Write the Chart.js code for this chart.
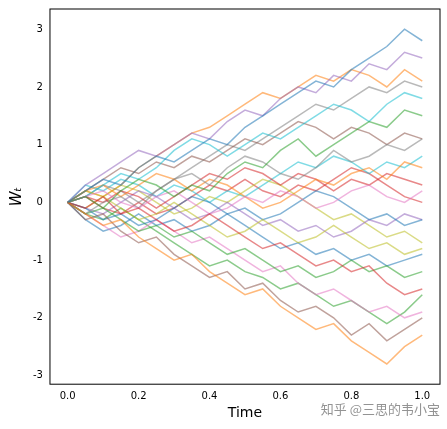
<!DOCTYPE html>
<html><head><meta charset="utf-8">
<script src="https://cdn.jsdelivr.net/npm/chart.js@4"></script>
<style>html,body{margin:0;padding:0;background:#fff}#w{width:447px;height:429px}</style>
</head><body><div id="w"><canvas id="c"></canvas></div>
<script>
const times = [0,0.05,0.1,0.15,0.2,0.25,0.3,0.35,0.4,0.45,0.5,0.55,0.6,0.65,0.7,0.75,0.8,0.85,0.9,0.95,1.0];
const xTicks = [0,0.2,0.4,0.6,0.8,1.0];
const yTicks = [-3,-2,-1,0,1,2,3];
const p1=[0,0.2,0.4,0.3,0.6,0.8,0.7,0.9,1.1,1.0,1.3,1.5,1.7,1.9,2.1,2.0,2.3,2.5,2.7,3.0,2.8];
const p2=[0,-0.2,-0.4,-0.3,-0.6,-0.8,-1.0,-0.9,-1.2,-1.4,-1.6,-1.5,-1.8,-2.0,-2.2,-2.1,-2.4,-2.6,-2.8,-2.5,-2.3];
const p3=[0,0.1,-0.1,0.2,0.4,0.3,0.1,0.3,0.2,0.5,0.7,0.6,0.9,1.1,0.8,1.0,1.2,1.4,1.3,1.6,1.5];
const p4=[0,-0.1,0.1,-0.2,-0.1,-0.3,-0.5,-0.4,-0.2,-0.4,-0.6,-0.8,-0.7,-0.9,-1.1,-1.0,-1.2,-1.1,-1.4,-1.6,-1.5];
const p5=[0,0.3,0.5,0.7,0.9,0.8,1.0,1.2,1.1,1.4,1.6,1.5,1.8,2.0,1.9,2.2,2.1,2.4,2.3,2.6,2.5];
const p6=[0,-0.3,-0.2,-0.5,-0.7,-0.6,-0.9,-1.1,-1.3,-1.2,-1.5,-1.4,-1.7,-1.9,-1.8,-2.0,-2.3,-2.1,-2.4,-2.2,-2.0];
const p7=[0,0.1,0.2,0.0,-0.1,0.1,0.2,0.0,-0.2,-0.1,0.1,0.0,0.2,0.1,-0.1,0.0,0.2,0.3,0.1,0.0,0.2];
const p8=[0,-0.2,0.0,0.1,-0.1,0.2,0.4,0.5,0.3,0.6,0.8,0.7,0.5,0.4,0.6,0.9,0.7,0.8,1.0,0.9,1.1];
const p9=[0,0.2,0.1,-0.1,-0.3,-0.2,0.0,-0.2,-0.4,-0.6,-0.5,-0.3,-0.5,-0.7,-0.6,-0.4,-0.6,-0.8,-0.7,-0.9,-0.8];
const p10=[0,0.1,0.3,0.5,0.4,0.6,0.9,1.1,1.0,0.8,1.0,1.2,1.1,1.3,1.5,1.7,1.6,1.4,1.7,1.9,1.8];
const p11=[0,-0.1,-0.3,-0.2,-0.4,-0.3,-0.1,0.1,0.0,-0.2,-0.1,-0.3,-0.2,0.0,0.2,0.1,-0.1,-0.3,-0.2,-0.4,-0.3];
const p12=[0,0.2,0.3,0.1,0.3,0.5,0.4,0.2,0.4,0.3,0.1,-0.1,0.0,0.2,0.4,0.3,0.5,0.6,0.4,0.7,0.6];
const p13=[0,-0.2,-0.1,-0.3,-0.5,-0.4,-0.6,-0.5,-0.7,-0.9,-0.8,-1.0,-1.2,-1.1,-1.3,-1.2,-1.0,-1.2,-1.1,-1.3,-1.2];
const p14=[0,0.1,0.0,0.2,0.1,-0.1,0.1,0.3,0.5,0.4,0.6,0.5,0.3,0.5,0.4,0.2,0.4,0.3,0.5,0.4,0.3];
const p15=[0,-0.1,-0.2,0.0,0.2,0.1,-0.1,-0.3,-0.2,0.0,-0.2,-0.4,-0.3,-0.5,-0.4,-0.6,-0.5,-0.3,-0.4,-0.2,-0.3];
const p16=[0,0.2,0.4,0.6,0.5,0.7,0.6,0.8,0.7,0.9,1.1,1.0,1.2,1.4,1.3,1.1,1.3,1.2,1.0,1.2,1.1];
const p17=[0,-0.2,-0.4,-0.6,-0.5,-0.3,-0.5,-0.7,-0.6,-0.8,-1.0,-1.2,-1.1,-1.4,-1.6,-1.5,-1.7,-1.9,-1.8,-2.0,-1.9];
const p18=[0,0.1,0.3,0.2,0.0,0.2,0.4,0.6,0.8,1.0,0.9,1.1,1.3,1.5,1.7,1.6,1.8,2.0,1.9,2.1,2.0];
const p19=[0,-0.1,0.1,0.3,0.2,0.0,-0.2,-0.1,0.1,0.0,0.2,0.4,0.3,0.1,-0.1,-0.3,-0.2,-0.4,-0.6,-0.5,-0.7];
const p20=[0,0.3,0.2,0.4,0.3,0.1,0.3,0.2,0.0,0.2,0.1,0.3,0.5,0.7,0.6,0.8,0.7,0.5,0.7,0.6,0.8];
const p21=[0,-0.3,-0.5,-0.4,-0.2,-0.4,-0.3,-0.5,-0.4,-0.2,-0.4,-0.6,-0.8,-0.7,-0.9,-0.8,-1.0,-0.9,-1.1,-1.0,-0.9];
const p22=[0,0.2,0.1,0.3,0.6,0.8,1.0,1.2,1.3,1.5,1.7,1.9,1.8,2.0,2.2,2.1,2.3,2.2,2.0,2.3,2.1];
const p23=[0,-0.2,-0.3,-0.1,-0.3,-0.5,-0.7,-0.9,-1.1,-1.0,-1.2,-1.3,-1.5,-1.4,-1.6,-1.8,-1.7,-1.9,-2.1,-1.9,-1.6];
const p24=[0,0.1,-0.1,-0.2,0.0,-0.2,-0.1,0.1,0.3,0.2,0.4,0.2,0.1,0.3,0.2,0.4,0.6,0.5,0.3,0.1,0.0];
const paths=[p1,p2,p3,p4,p5,p6,p7,p8,p9,p10,p11,p12,p13,p14,p15,p16,p17,p18,p19,p20,p21,p22,p23,p24];
const colors=['31,119,180','255,127,14','44,160,44','214,39,40','148,103,189','140,86,75','227,119,194','127,127,127','188,189,34','23,190,207'];
const datasets=paths.map((p,i)=>({data:p.map((v,j)=>({x:times[j],y:v})),borderColor:'rgba('+colors[i%10]+',0.55)',borderWidth:1.5,pointRadius:0,tension:0,fill:false}));
const frame={id:'frame',afterDraw(c){const a=c.chartArea,x=c.ctx;x.save();x.strokeStyle='#000';x.lineWidth=1;x.strokeRect(a.left,a.top,a.right-a.left,a.bottom-a.top);
x.fillStyle='rgba(120,120,120,0.8)';x.font='13px "Noto Sans CJK SC"';x.textAlign='right';x.fillText('知乎 @三思的韦小宝',440,414);x.restore();}};
const tickFont={family:'DejaVu Sans',size:10};
new Chart(document.getElementById('c'),{type:'line',data:{datasets},plugins:[frame],
options:{responsive:true,maintainAspectRatio:false,animation:false,layout:{padding:{top:5,right:7,left:4,bottom:7}},
plugins:{legend:{display:false},tooltip:{enabled:false}},
scales:{x:{type:'linear',min:-0.05,max:1.05,afterBuildTicks(s){s.ticks=xTicks.map(v=>({value:v}));},
ticks:{color:'#000',font:tickFont,callback:v=>v.toFixed(1),autoSkip:false,maxRotation:0,padding:2},grid:{display:false,drawTicks:true,tickLength:4},border:{display:false},
title:{display:true,text:'Time',color:'#000',font:{family:'DejaVu Sans',size:14},padding:{top:1,bottom:0}}},
y:{min:-3.15,max:3.35,afterBuildTicks(s){s.ticks=yTicks.map(v=>({value:v}));},
ticks:{color:'#000',font:tickFont,autoSkip:false},grid:{display:false,tickLength:4},border:{display:false},
title:{display:true,text:'Wₜ',color:'#000',font:{family:'DejaVu Sans',size:15,style:'italic'}}}}}});
</script></body></html>
